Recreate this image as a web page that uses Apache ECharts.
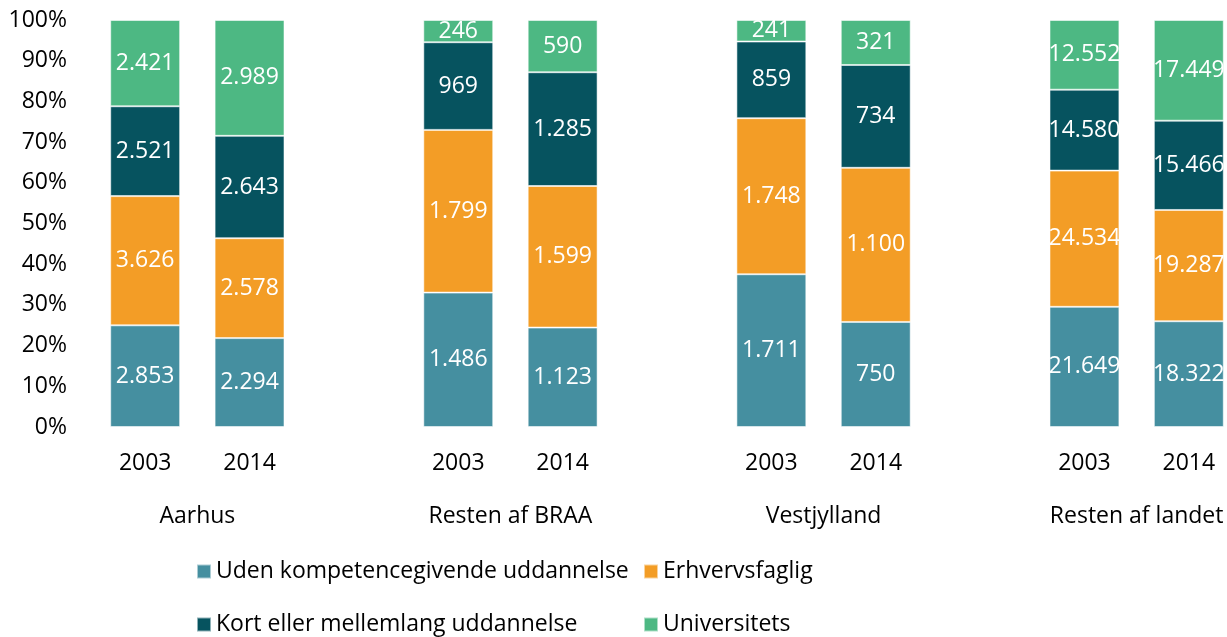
<!DOCTYPE html>
<html>
<head>
<meta charset="utf-8">
<script src="https://cdn.jsdelivr.net/npm/echarts@6/dist/echarts.min.js"></script>
<style>
  html, body { margin: 0; padding: 0; background: #fff; }
  #chart { width: 1227px; height: 637px; }
</style>
</head>
<body>
<div id="chart"></div>
<script>
// data
var groups = ['Aarhus', 'Resten af BRAA', 'Vestjylland', 'Resten af landet'];
var years = ['2003', '2014'];
var seriesNames = ['Uden kompetencegivende uddannelse', 'Erhvervsfaglig', 'Kort eller mellemlang uddannelse', 'Universitets'];
var uden = [2853, 2294, 1486, 1123, 1711, 750, 21649, 18322];
var erhverv = [3626, 2578, 1799, 1599, 1748, 1100, 24534, 19287];
var kort = [2521, 2643, 969, 1285, 859, 734, 14580, 15466];
var univ = [2421, 2989, 246, 590, 241, 321, 12552, 17449];
var yTicks = [0, 10, 20, 30, 40, 50, 60, 70, 80, 90, 100];

(function () {
  var myChart = echarts.init(document.getElementById('chart'));
  var colors = ['#458fa0', '#f39d26', '#06535f', '#4db883'];
  var font = 'Open Sans';
  var fs = 23;
  var raw = [uden, erhverv, kort, univ];

  // kategorier: 2003, 2014, tom plads mellem grupper
  var cats = [];
  var slotOfBar = [];
  groups.forEach(function (g, gi) {
    if (gi > 0) cats.push('');
    years.forEach(function (y) {
      slotOfBar.push(cats.length);
      cats.push(y);
    });
  });

  // totaler per søjle
  var totals = uden.map(function (v, i) {
    return uden[i] + erhverv[i] + kort[i] + univ[i];
  });

  // dansk tusindtalsseparator
  function fmt(n) {
    return String(n).replace(/\B(?=(\d{3})+(?!\d))/g, '.');
  }

  var series = raw.map(function (arr, si) {
    var data = cats.map(function () { return null; });
    arr.forEach(function (v, i) {
      data[slotOfBar[i]] = { value: v / totals[i] * 100, raw: v };
    });
    return {
      name: seriesNames[si],
      type: 'bar',
      stack: 'total',
      barWidth: '67%',
      data: data,
      itemStyle: {
        color: colors[si],
        borderColor: 'rgba(255,255,255,0.55)',
        borderWidth: 1
      },
      label: {
        show: true,
        position: 'inside',
        color: '#fff',
        fontFamily: font,
        fontSize: fs,
        formatter: function (p) { return fmt(p.data.raw); }
      }
    };
  });

  // gruppenavne ligger midt mellem de to søjler
  var groupPos = {};
  slotOfBar.forEach(function (s, i) {
    if (i % 2 === 1) groupPos[s] = groups[(i - 1) / 2];
  });

  // én legend per post, så de står i to kolonner og to rækker
  var legendSpots = [[196, 560], [643, 560], [196, 613], [643, 613]];
  var legends = seriesNames.map(function (n, i) {
    return {
      data: [n],
      left: legendSpots[i][0],
      top: legendSpots[i][1],
      padding: 0,
      icon: 'rect',
      itemWidth: 14,
      itemHeight: 14,
      textStyle: { fontFamily: font, fontSize: fs, color: '#000' }
    };
  });

  var option = {
    animation: false,
    grid: {
      left: 93,
      top: 20,
      width: 1148,
      height: 407,
      outerBoundsMode: 'none'
    },
    legend: legends,
    xAxis: [
      {
        type: 'category',
        data: cats,
        axisLine: { show: false },
        axisTick: { show: false },
        axisLabel: {
          color: '#000',
          fontFamily: font,
          fontSize: fs,
          margin: 25
        }
      },
      {
        type: 'value',
        min: 0,
        max: cats.length,
        interval: 1,
        position: 'bottom',
        axisLine: { show: false },
        axisTick: { show: false },
        splitLine: { show: false },
        axisLabel: {
          color: '#000',
          fontFamily: font,
          fontSize: fs,
          margin: 78,
          formatter: function (v) { return groupPos[v] || ''; }
        }
      }
    ],
    yAxis: {
      type: 'value',
      min: yTicks[0],
      max: yTicks[yTicks.length - 1],
      interval: 10,
      axisLine: { show: false },
      axisTick: { show: false },
      splitLine: { show: false },
      axisLabel: {
        color: '#000',
        fontFamily: font,
        fontSize: fs,
        margin: 26,
        padding: [6, 0, 0, 0],
        formatter: '{value}%'
      }
    },
    series: series
  };

  myChart.setOption(option);
  window.addEventListener('resize', function () {
    myChart.resize();
  });
})();
</script>
</body>
</html>
